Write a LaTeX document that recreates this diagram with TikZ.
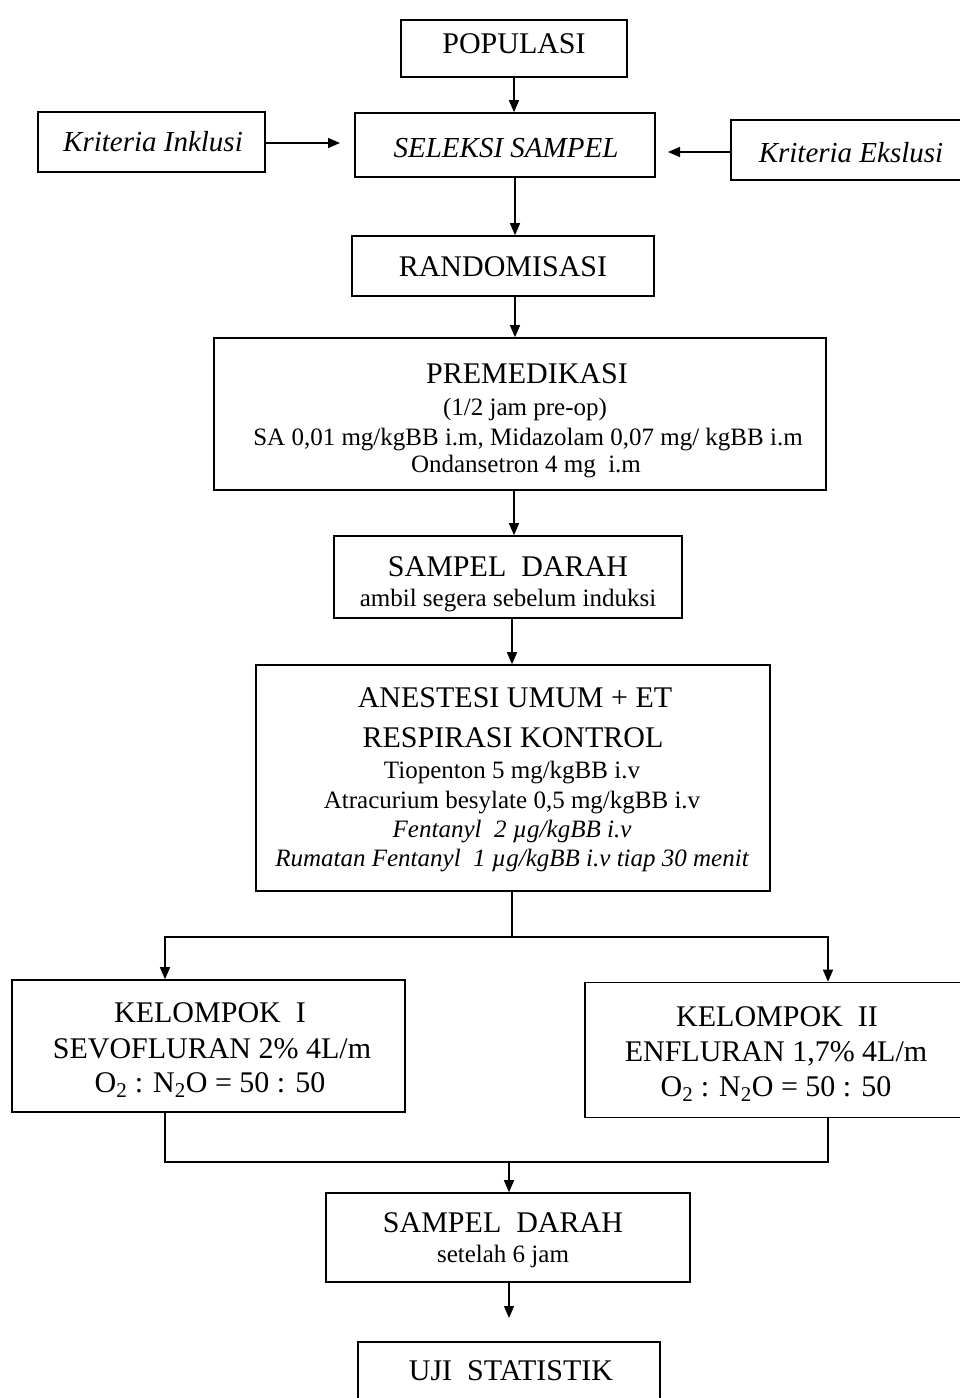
\documentclass[tikz,border=0pt]{standalone}
\usepackage{fontspec}
\setmainfont{Liberation Serif}
\usetikzlibrary{arrows.meta}
\newcommand{\bigf}{\fontsize{30}{35}\selectfont}
\newcommand{\smf}{\fontsize{25}{29}\selectfont}
\tikzset{
  bx/.style={draw, line width=1.6pt, inner sep=0pt},
  bigt/.style={anchor=base, inner sep=0pt, font=\bigf},
  smt/.style={anchor=base, inner sep=0pt, font=\smf},
  itt/.style={anchor=base, inner sep=0pt, font=\fontsize{29}{34}\selectfont\itshape},
  conn/.style={line width=1.3pt},
  arr/.style={line width=1.3pt, -{Triangle[length=12pt,width=10pt]}},
}
\begin{document}
\begin{tikzpicture}[x=1pt,y=-1pt]
\useasboundingbox (0,0) rectangle (960,1398);
\fill[white] (0,0) rectangle (960,1398);
% boxes
\node[bx, minimum width=226, minimum height=57] (pop) at (514,48.5) {};
\node[bigt] (popT) at (514,53) {POPULASI};
\node[bx, minimum width=227, minimum height=60] (inkl) at (151.5,142) {};
\node[itt] (inklT) at (153,151) {Kriteria Inklusi};
\node[bx, minimum width=300, minimum height=64] (sel) at (505,145) {};
\node[itt] (selT) at (506,157) {SELEKSI SAMPEL};
\node[bx, minimum width=240, minimum height=60] (eks) at (851,150) {};
\node[itt] (eksT) at (851,162) {Kriteria Ekslusi};
\node[bx, minimum width=302, minimum height=60] (rand) at (503,266) {};
\node[bigt] (randT) at (503,276) {RANDOMISASI};
\node[bx, minimum width=612, minimum height=152] (prem) at (520,414) {};
\node[bigt] (premA) at (527,383) {PREMEDIKASI};
\node[smt] (premB) at (525,415) {(1/2 jam pre-op)};
\node[smt] (premC) at (528,445) {SA 0,01 mg/kgBB i.m, Midazolam 0,07 mg/ kgBB i.m};
\node[smt] (premD) at (526,472) {Ondansetron 4 mg\ \ i.m};
\node[bx, minimum width=348, minimum height=82] (sd1) at (508,577) {};
\node[bigt] (sd1A) at (508,576) {SAMPEL\ \ DARAH};
\node[smt] (sd1B) at (508,606) {ambil segera sebelum induksi};
\node[bx, minimum width=514, minimum height=226] (anes) at (513,778) {};
\node[bigt] (anesA) at (515,707) {ANESTESI UMUM + ET};
\node[bigt] (anesB) at (513,747) {RESPIRASI KONTROL};
\node[smt] (anesC) at (512,778) {Tiopenton 5 mg/kgBB i.v};
\node[smt] (anesD) at (512,808) {Atracurium besylate 0,5 mg/kgBB i.v};
\node[smt, font=\smf\itshape] (anesE) at (512,837) {Fentanyl\ \ 2 µg/kgBB i.v};
\node[smt, font=\smf\itshape] (anesF) at (512,866) {Rumatan Fentanyl\ \ 1 µg/kgBB i.v tiap 30 menit};
\node[bx, minimum width=393, minimum height=132] (k1) at (208.5,1046) {};
\node[bigt] (k1A) at (210,1022) {KELOMPOK\ \ I};
\node[bigt] (k1B) at (212,1058) {SEVOFLURAN 2\% 4L/m};
\node[bigt] (k1C) at (210,1092) {O\textsubscript{2} : N\textsubscript{2}O = 50 : 50};
\node[bx, minimum width=384, minimum height=135] (k2) at (777,1050) {};
\node[bigt] (k2A) at (777,1026) {KELOMPOK\ \ II};
\node[bigt] (k2B) at (776,1061) {ENFLURAN 1,7\% 4L/m};
\node[bigt] (k2C) at (776,1096) {O\textsubscript{2} : N\textsubscript{2}O = 50 : 50};
\node[bx, minimum width=364, minimum height=89] (sd2) at (508,1237.5) {};
\node[bigt] (sd2A) at (503,1232) {SAMPEL\ \ DARAH};
\node[smt] (sd2B) at (503,1262) {setelah 6 jam};
\node[bx, minimum width=302, minimum height=64] (uji) at (509,1374) {};
\node[bigt] (ujiT) at (511,1380) {UJI\ \ STATISTIK};
% connectors
\coordinate (inklEnd) at (340,143);
\coordinate (eksEnd) at (668,152);
\draw[arr] (pop.south) -- (pop.south |- sel.north);
\draw[arr] (inkl.east |- inklEnd) -- (inklEnd);
\draw[arr] (eks.west |- eksEnd) -- (eksEnd);
\draw[arr] (sel.south -| 515,0) -- (rand.north -| 515,0);
\draw[arr] (rand.south -| 515,0) -- (prem.north -| 515,0);
\draw[arr] (prem.south -| 514,0) -- (sd1.north -| 514,0);
\draw[arr] (sd1.south -| 512,0) -- (anes.north -| 512,0);
\coordinate (split) at (512,937);
\coordinate (c1) at (165,937);
\coordinate (c2) at (828,937);
\draw[conn] (anes.south -| split) -- (split);
\draw[arr] (split) -- (c1) -- (c1 |- k1.north);
\draw[arr] (split) -- (c2) -- (c2 |- k2.north);
\coordinate (m1) at (165,1162);
\coordinate (m2) at (828,1162);
\draw[conn] (c1 |- k1.south) -- (m1) -- (m2) -- (c2 |- k2.south);
\coordinate (ujiEnd) at (509,1318);
\draw[arr] (m1 -| ujiEnd) -- (sd2.north -| ujiEnd);
\draw[arr] (sd2.south -| ujiEnd) -- (ujiEnd);
\end{tikzpicture}
\end{document}
